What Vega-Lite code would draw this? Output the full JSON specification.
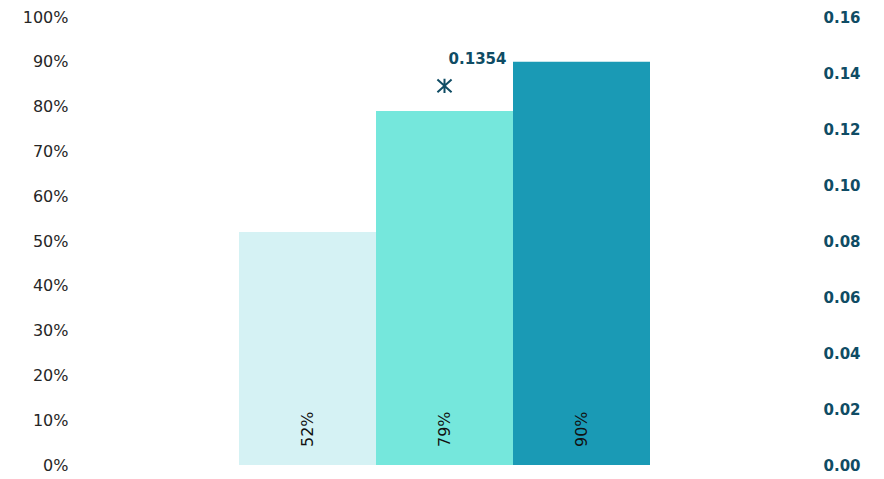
{
  "$schema": "https://vega.github.io/schema/vega-lite/v6.json",
  "width": 685,
  "height": 448,
  "autosize": {"type": "none"},
  "padding": {"left": 102, "top": 17, "right": 97, "bottom": 14},
  "background": "white",
  "config": {"view": {"stroke": null}, "font": "DejaVu Sans"},
  "datasets": {
    "bars": [
      {"cat": "A", "pct": 0.52, "label": "52%"},
      {"cat": "B", "pct": 0.79, "label": "79%"},
      {"cat": "C", "pct": 0.9, "label": "90%"}
    ],
    "pt": [
      {"cat": "B", "val": 0.1354, "label": "0.1354"}
    ]
  },
  "encoding": {
    "x": {
      "field": "cat",
      "type": "nominal",
      "scale": {"domain": ["A", "B", "C"], "paddingInner": 0, "paddingOuter": 1},
      "axis": null
    }
  },
  "layer": [
    {
      "data": {"name": "bars"},
      "layer": [
        {
          "mark": {"type": "bar"},
          "encoding": {
            "y": {
              "field": "pct",
              "type": "quantitative",
              "scale": {"domain": [0, 1]},
              "axis": {
                "orient": "left",
                "format": ".0%",
                "values": [0, 0.1, 0.2, 0.3, 0.4, 0.5, 0.6, 0.7, 0.8, 0.9, 1],
                "grid": false,
                "domain": false,
                "ticks": false,
                "labelPadding": 34,
                "labelFontSize": 16,
                "labelColor": "#262626",
                "labelFont": "DejaVu Sans",
                "title": null
              }
            },
            "color": {
              "field": "cat",
              "type": "nominal",
              "scale": {"domain": ["A", "B", "C"], "range": ["#d5f2f4", "#75e7dc", "#1a9ab5"]},
              "legend": null
            }
          }
        },
        {
          "mark": {"type": "text", "angle": 270, "align": "left", "baseline": "middle", "dx": 18, "fontSize": 16, "color": "#111111", "font": "DejaVu Sans"},
          "encoding": {
            "y": {"datum": 0, "type": "quantitative"},
            "text": {"field": "label", "type": "nominal"}
          }
        }
      ]
    },
    {
      "data": {"name": "pt"},
      "layer": [
        {
          "mark": {
            "type": "point",
            "shape": "M-1,-0.9L1,0.9M-1,0.9L1,-0.9M0,-1L0,1",
            "size": 200,
            "strokeWidth": 2,
            "filled": false,
            "color": "#0f4c64",
            "opacity": 1
          },
          "encoding": {
            "y": {
              "field": "val",
              "type": "quantitative",
              "scale": {"domain": [0, 0.16]},
              "axis": {
                "orient": "right",
                "format": ".2f",
                "values": [0, 0.02, 0.04, 0.06, 0.08, 0.1, 0.12, 0.14, 0.16],
                "grid": false,
                "domain": false,
                "ticks": false,
                "labelPadding": 36,
                "labelFontSize": 15,
                "labelFontWeight": "bold",
                "labelColor": "#0f4c64",
                "labelFont": "DejaVu Sans",
                "title": null
              }
            }
          }
        },
        {
          "mark": {"type": "text", "dx": 33, "dy": -27, "fontSize": 15, "fontWeight": "bold", "color": "#0f4c64", "font": "DejaVu Sans", "align": "center", "baseline": "middle"},
          "encoding": {
            "y": {"field": "val", "type": "quantitative"},
            "text": {"field": "label", "type": "nominal"}
          }
        }
      ]
    }
  ],
  "resolve": {"scale": {"y": "independent", "color": "independent"}}
}
